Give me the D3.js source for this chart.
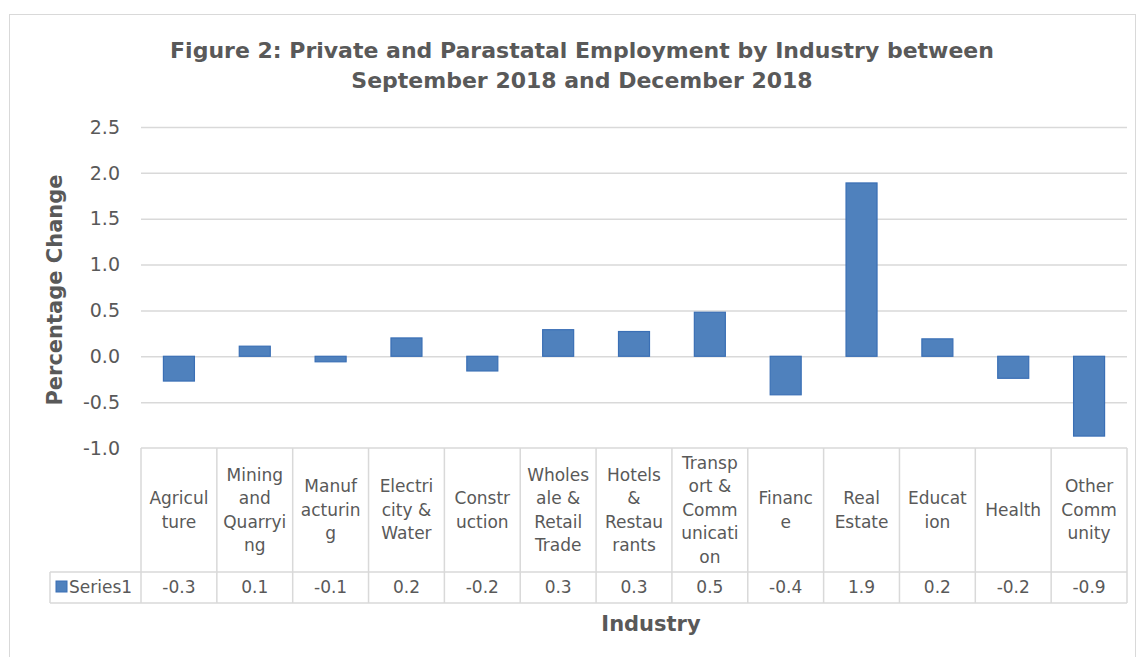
<!DOCTYPE html>
<html><head><meta charset="utf-8">
<script src="https://cdn.jsdelivr.net/npm/d3@7"></script>
<style>body{margin:0;background:#fff}svg{display:block}text{font-family:"DejaVu Sans",sans-serif;fill:#595959}</style>
</head><body><svg id="c" width="1139" height="657"></svg>
<script>
const categories=["Agriculture","Mining and Quarrying","Manufacturing","Electricity & Water","Construction","Wholesale & Retail Trade","Hotels & Restaurants","Transport & Communication","Finance","Real Estate","Education","Health","Other Community"];
const categoryLines=[["Agricul","ture"],["Mining","and","Quarryi","ng"],["Manuf","acturin","g"],["Electri","city &","Water"],["Constr","uction"],["Wholes","ale &","Retail","Trade"],["Hotels","&","Restau","rants"],["Transp","ort &","Comm","unicati","on"],["Financ","e"],["Real","Estate"],["Educat","ion"],["Health"],["Other","Comm","unity"]];
const values=[-0.27,0.11,-0.06,0.2,-0.16,0.29,0.27,0.48,-0.42,1.89,0.19,-0.24,-0.87];
const tableLabels=["-0.3","0.1","-0.1","0.2","-0.2","0.3","0.3","0.5","-0.4","1.9","0.2","-0.2","-0.9"];
const yTicks=[-1.0,-0.5,0.0,0.5,1.0,1.5,2.0,2.5];
const seriesName="Series1";
const titleLines=["Figure 2: Private and Parastatal Employment by Industry between","September 2018 and December 2018"];

const svg=d3.select("#c");
svg.append("rect").attr("x",9.5).attr("y",14.5).attr("width",1126).attr("height",660).attr("fill","none").attr("stroke","#d9d9d9");
const L=141,R=1127,T=127,B=448;
const xc=d3.scaleBand().domain(categories).range([L,R]);
const y=d3.scaleLinear().domain([-1,2.5]).range([B,T]);
const grid="#d9d9d9";
svg.append("g").selectAll("line").data(yTicks.filter(d=>d>-1)).join("line")
 .attr("x1",L).attr("x2",R).attr("y1",d=>y(d)+0.5).attr("y2",d=>y(d)+0.5).attr("stroke",grid).attr("stroke-width",1.5);
svg.append("g").selectAll("text").data(yTicks).join("text")
 .attr("x",120).attr("y",d=>y(d)).attr("dy","0.35em").attr("text-anchor","end").attr("font-size",19).text(d=>d.toFixed(1));
svg.append("g").selectAll("rect").data(values).join("rect")
 .attr("x",(d,i)=>xc(categories[i])+xc.bandwidth()/2-15.5).attr("width",31)
 .attr("y",d=>y(Math.max(0,d))).attr("height",d=>Math.abs(y(d)-y(0)))
 .attr("fill","#4F81BD").attr("stroke","#3A6FB5").attr("stroke-width",1.2);
// table
const rowTop=B,rowMid=572,rowBot=603,legL=50;
const tg=svg.append("g").attr("stroke",grid).attr("stroke-width",1.5);
tg.append("line").attr("x1",L).attr("x2",R).attr("y1",rowTop).attr("y2",rowTop);
tg.append("line").attr("x1",legL).attr("x2",R).attr("y1",rowMid).attr("y2",rowMid);
tg.append("line").attr("x1",legL).attr("x2",R).attr("y1",rowBot).attr("y2",rowBot);
tg.append("line").attr("x1",legL).attr("x2",legL).attr("y1",rowMid).attr("y2",rowBot);
tg.selectAll("line.v").data(categories.concat(["end"])).join("line").attr("class","v")
 .attr("x1",(d,i)=>L+i*xc.bandwidth()).attr("x2",(d,i)=>L+i*xc.bandwidth()).attr("y1",rowTop).attr("y2",rowBot);
const lh=23.5;
categories.forEach((c,i)=>{
 const lines=categoryLines[i];const cx=xc(c)+xc.bandwidth()/2;const cy=(rowTop+rowMid)/2;
 const t=svg.append("text").attr("text-anchor","middle").attr("font-size",17);
 lines.forEach((l,j)=>t.append("tspan").attr("x",cx).attr("y",cy+(j-(lines.length-1)/2)*lh).attr("dy","0.35em").text(l));
 svg.append("text").attr("x",cx).attr("y",(rowMid+rowBot)/2).attr("dy","0.35em").attr("text-anchor","middle").attr("font-size",17).text(tableLabels[i]);
});
svg.append("rect").attr("x",56).attr("y",581).attr("width",11).attr("height",11).attr("fill","#4F81BD").attr("stroke","#3A6FB5");
svg.append("text").attr("x",69).attr("y",(rowMid+rowBot)/2).attr("dy","0.35em").attr("font-size",17).text(seriesName);
// titles
const tt=svg.append("text").attr("text-anchor","middle").attr("font-size",22).attr("font-weight","bold");
titleLines.forEach((l,j)=>tt.append("tspan").attr("x",582).attr("y",58+j*30).text(l));
svg.append("text").attr("transform","translate(62,290) rotate(-90)").attr("text-anchor","middle").attr("font-size",21).attr("font-weight","bold").text("Percentage Change");
svg.append("text").attr("x",651).attr("y",631).attr("text-anchor","middle").attr("font-size",21).attr("font-weight","bold").text("Industry");
</script></body></html>
